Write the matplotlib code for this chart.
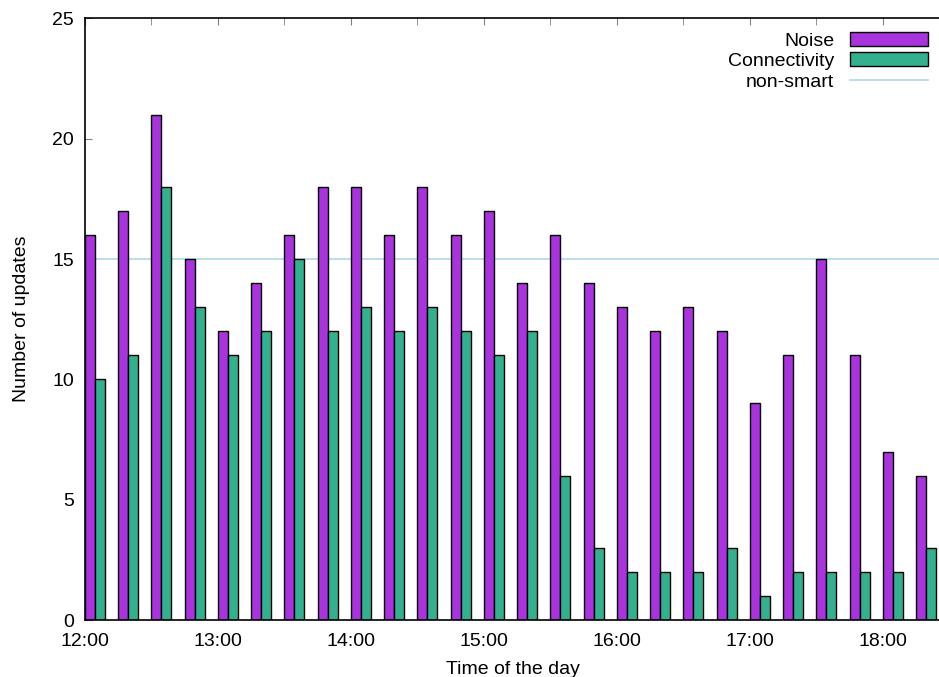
import matplotlib.pyplot as plt
import numpy as np

# time slots every 15 minutes from 12:00 to 18:15
times = ["12:00", "12:15", "12:30", "12:45", "13:00", "13:15", "13:30", "13:45",
         "14:00", "14:15", "14:30", "14:45", "15:00", "15:15", "15:30", "15:45",
         "16:00", "16:15", "16:30", "16:45", "17:00", "17:15", "17:30", "17:45",
         "18:00", "18:15"]
noise = [16, 17, 21, 15, 12, 14, 16, 18, 18, 16, 18, 16, 17,
         14, 16, 14, 13, 12, 13, 12, 9, 11, 15, 11, 7, 6]
connectivity = [10, 11, 18, 13, 11, 12, 15, 12, 13, 12, 13, 12, 11,
                12, 6, 3, 2, 2, 2, 3, 1, 2, 2, 2, 2, 3]
non_smart = 15

hour_ticks = [12, 13, 14, 15, 16, 17, 18]
hour_labels = ["%d:00" % h for h in hour_ticks]

plt.rcParams['font.family'] = ['Liberation Sans', 'DejaVu Sans']
plt.rcParams['font.size'] = 14

# hours after 12:00
x = np.array([int(t[:2]) - 12 + int(t[3:]) / 60 for t in times])
w = 0.075

fig = plt.figure(figsize=(9.39, 6.77), dpi=100)
ax = fig.add_axes([0.0905, 0.084, 0.912, 0.889])

b1 = ax.bar(x, noise, w, align='edge', color='#a933dc', edgecolor='black',
            linewidth=1, label='Noise', zorder=2)
b2 = ax.bar(x + w, connectivity, w, align='edge', color='#33b18f', edgecolor='black',
            linewidth=1, label='Connectivity', zorder=2)
ln = ax.axhline(non_smart, color='#add8e6', linewidth=1.2, label='non-smart', zorder=1)

ax.set_xlim(0, 6.44)
ax.set_ylim(0, 25)
ax.set_xticks([h - 12 for h in hour_ticks])
ax.set_xticklabels(hour_labels)
ax.set_xticks(np.arange(0, 6.5, 0.5), minor=True)
ax.set_yticks(range(0, 26, 5))
ax.tick_params(axis='both', which='both', direction='in', top=True, right=False,
               length=5, color='#808080', labelsize=14)
ax.tick_params(axis='x', which='minor', length=5)
ax.tick_params(axis='x', pad=9)
ax.tick_params(axis='y', pad=8)

for s in ax.spines.values():
    s.set_linewidth(1.2)
ax.spines['right'].set_visible(False)

ax.set_xlabel('Time of the day', fontsize=14, labelpad=8)
ax.set_ylabel('Number of updates', fontsize=14, labelpad=16)

ax.legend([b1, b2, ln], ['Noise', 'Connectivity', 'non-smart'],
          loc='upper right', frameon=False, markerfirst=False, handlelength=4,
          handleheight=0.7, labelspacing=0.15, borderaxespad=0.3, fontsize=14)

fig.savefig('out.png', dpi=100)
